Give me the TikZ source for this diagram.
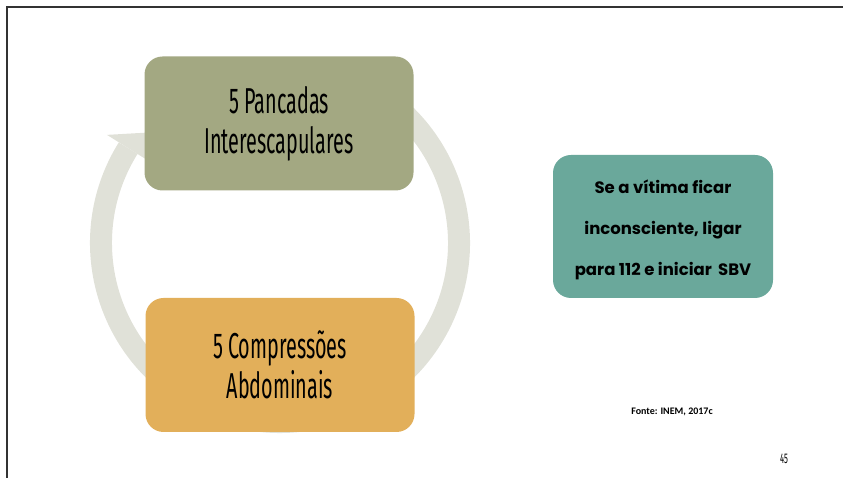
\documentclass[tikz,border=0pt]{standalone}
\usepackage{fontspec}
\usepackage{xcolor}
\usepackage{tikz}
\setmainfont{Fira Sans}
\newfontfamily\stepfont[FakeStretch=0.55]{Fira Sans}
\newfontfamily\notefont{Poppins}
\newfontfamily\srcfont{Carlito}
\definecolor{olivebox}{HTML}{A3A882}
\definecolor{mustardbox}{HTML}{E2AF5A}
\definecolor{tealbox}{HTML}{6AA89B}
\definecolor{ringgray}{HTML}{E0E1D8}
\definecolor{framegray}{HTML}{333333}

\begin{document}
\begin{tikzpicture}[x=1pt, y=1pt,
    stepbox/.style={rounded corners=18pt, minimum width=269pt, minimum height=134pt, align=center, inner sep=0pt, font=\stepfont\fontsize{36}{40}\selectfont},
    notebox/.style={rounded corners=18pt, fill=tealbox, minimum width=220pt, minimum height=143pt, align=center, inner sep=0pt, font=\notefont\bfseries\fontsize{16.5}{41}\selectfont}]
    \useasboundingbox (0,0) rectangle (843,478);
    % slide frame
    \draw[framegray, line width=2.5pt] (7,0) -- (7,471) -- (843,471);

    % cycle ring and arrow head
    \coordinate (c) at (280,235);
    \coordinate (tip) at (192,348);
    \draw[ringgray, line width=22pt] ([shift={(58:179)}]c) arc (58:-212:179);
    \fill[ringgray] ([shift={(148:158)}]c) -- ([shift={(148:204)}]c) -- (tip) -- cycle;

    \node[stepbox, fill=olivebox] (pancadas) at (279,354.5) {5 Pancadas\\Interescapulares};
    \node[stepbox, fill=mustardbox] (compressoes) at (280,113) {5 Compressões\\Abdominais};

    \node[notebox] (sbv) at (663,251.5) {\raisebox{-7pt}{\begin{tabular}{@{}c@{}}Se a vítima ficar\\inconsciente, ligar\\para 112 e iniciar\, SBV\end{tabular}}};

    \node[font=\srcfont\bfseries\fontsize{10}{12}\selectfont] (fonte) at (672,66) {Fonte: INEM, 2017c};
    \node[font=\stepfont\fontsize{14}{14}\selectfont] (pagina) at (784,19) {45};
\end{tikzpicture}
\end{document}
